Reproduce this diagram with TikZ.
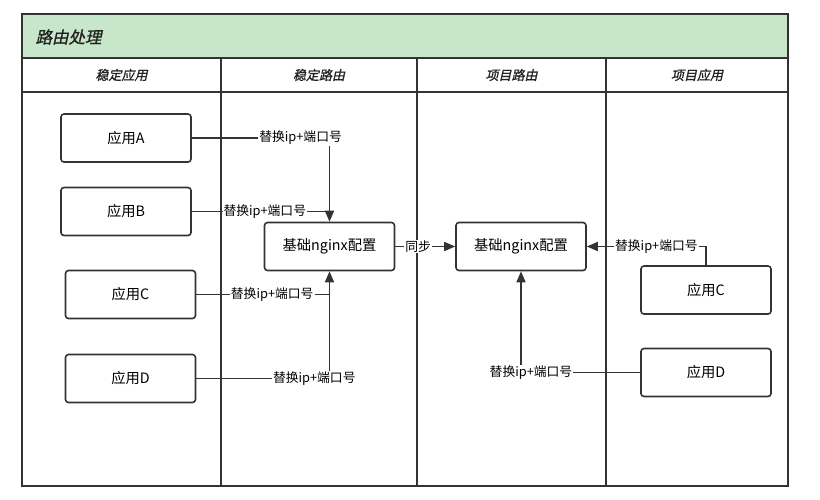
\documentclass[tikz,border=0pt]{standalone}
\usepackage{fontspec}
\setmainfont{Noto Sans CJK SC}
\newfontfamily\cjkslant[FakeSlant=0.22,FakeBold=1.2]{Noto Sans CJK SC}
\usetikzlibrary{arrows.meta}

\begin{document}
\begin{tikzpicture}[
		x=1pt,y=-1pt,
		font=\fontsize{12.8}{15}\selectfont,
		appbox/.style={draw=MauVien,fill=white,rounded corners=3pt,line width=1.6pt,
			minimum width=130pt,minimum height=48pt,inner sep=0pt,
			font=\fontsize{14.3}{17}\selectfont},
		lane/.style={draw=MauVien,line width=1.6pt},
		link/.style={draw=MauVien,line width=1.6pt},
		tiplink/.style={link,-{Triangle[length=11pt,width=9pt]}},
		tag/.style={fill=white,inner sep=1pt,text=black},
		lanetitle/.style={font=\cjkslant\fontsize{13}{15}\selectfont,text=MauChu}
	]
	% ===== MÀU SẮC =====
	\definecolor{MauNen}{RGB}{200,230,201}
	\definecolor{MauVien}{RGB}{51,51,51}
	\definecolor{MauChu}{RGB}{34,34,34}

	\useasboundingbox (0,0) rectangle (820,499);

	% ===== KHUNG VÀ LÀN =====
	\fill[MauNen] (22,14) rectangle (788,58);
	\draw[lane] (22,14) rectangle (788,486);
	\draw[lane] (22,58) -- (788,58);
	\draw[lane] (22,92) -- (788,92);
	\draw[lane] (221,58) -- (221,486);
	\draw[lane] (417,58) -- (417,486);
	\draw[lane] (606,58) -- (606,486);

	\node[lanetitle,anchor=west,font=\cjkslant\fontsize{16.5}{19}\selectfont] (title) at (32,37) {路由处理};
	\node[lanetitle] (colA) at (121.5,75) {稳定应用};
	\node[lanetitle] (colB) at (319,75) {稳定路由};
	\node[lanetitle] (colC) at (511.5,75) {项目路由};
	\node[lanetitle] (colD) at (697,75) {项目应用};

	% ===== CÁC HỘP =====
	\node[appbox] (appA) at (126,138) {应用A};
	\node[appbox] (appB) at (126,211.5) {应用B};
	\node[appbox] (appCL) at (130.5,294.5) {应用C};
	\node[appbox] (appDL) at (130.5,378.5) {应用D};
	\node[appbox] (cfgL) at (329.5,246.5) {基础nginx配置};
	\node[appbox] (cfgR) at (521,246.5) {基础nginx配置};
	\node[appbox] (appCR) at (706,290) {应用C};
	\node[appbox] (appDR) at (706,372.5) {应用D};

	% ===== ĐƯỜNG NỐI =====
	\draw[tiplink] (appA.east) -| (cfgL.north)
		node[tag,pos=0.395] {替换ip+端口号};
	\draw[link] (appB.east) -- (appB.east -| cfgL.north)
		node[tag,pos=0.53] {替换ip+端口号};
	\draw[link] (appCL.east) -- (appCL.east -| cfgL.south)
		node[tag,pos=0.57] {替换ip+端口号};
	\draw[tiplink] (appDL.east) -| (cfgL.south)
		node[tag,pos=0.443] {替换ip+端口号};
	\draw[tiplink] (cfgL) -- (cfgR)
		node[tag,pos=0.38] {同步};
	\draw[tiplink] (appCR.north) |- (cfgR.east)
		node[tag,pos=0.708] {替换ip+端口号};
	\draw[tiplink] (appDR.west) -| (cfgR.south)
		node[tag,pos=0.458] {替换ip+端口号};

\end{tikzpicture}
\end{document}
